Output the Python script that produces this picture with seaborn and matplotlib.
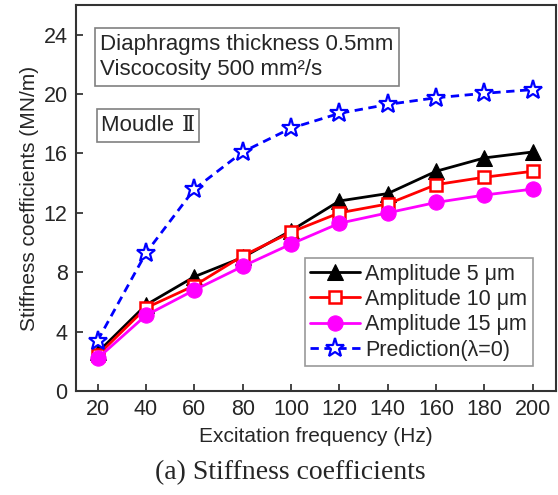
import matplotlib
matplotlib.use("Agg")
import matplotlib.pyplot as plt
import seaborn as sns
import pandas as pd
from matplotlib.patches import Rectangle

freq = [20, 40, 60, 80, 100, 120, 140, 160, 180, 200]
amp5 = [2.6, 5.8, 7.7, 9.0, 10.8, 12.8, 13.3, 14.8, 15.7, 16.1]
amp10 = [2.4, 5.6, 7.1, 9.1, 10.7, 12.0, 12.6, 13.9, 14.4, 14.8]
amp15 = [2.2, 5.1, 6.8, 8.4, 9.9, 11.3, 12.0, 12.7, 13.2, 13.6]
pred = [3.4, 9.3, 13.6, 16.1, 17.7, 18.7, 19.3, 19.75, 20.05, 20.3]
labels = ["Amplitude 5 μm", "Amplitude 10 μm", "Amplitude 15 μm", "Prediction(λ=0)"]

sns.set_theme(style="ticks")
plt.rcParams['font.family'] = ['Liberation Sans', 'DejaVu Sans']

fig = plt.figure(figsize=(5.58, 4.95), dpi=100)
ax = fig.add_axes([0.136, 0.210, 0.860, 0.780])

series = [amp5, amp10, amp15, pred]
styles = [
    dict(color="black", marker="^", markersize=11, markerfacecolor="black", markeredgecolor="black", linestyle="-"),
    dict(color="red", marker="s", markersize=9, markerfacecolor="white", markeredgecolor="red", markeredgewidth=1.8, linestyle="-"),
    dict(color="magenta", marker="o", markersize=11, markerfacecolor="magenta", markeredgecolor="magenta", linestyle="-"),
    dict(color="blue", marker="*", markersize=14, markerfacecolor="white", markeredgecolor="blue", markeredgewidth=1.6, linestyle=(0, (3, 2))),
]
for vals, lab, st in zip(series, labels, styles):
    df = pd.DataFrame({"freq": freq, "val": vals})
    sns.lineplot(data=df, x="freq", y="val", ax=ax, label=lab, linewidth=2, **st)

ax.set_xlim(11, 209.5)
ax.set_ylim(0, 26)
ax.set_xticks(freq)
ax.set_yticks([0, 4, 8, 12, 16, 20, 24])
ax.tick_params(direction="in", length=5, width=1.2, labelsize=15.5, top=False, right=False, pad=6)
for s in ax.spines.values():
    s.set_linewidth(1.5)
    s.set_color("#333333")
    s.set_visible(True)
ax.set_xlabel("Excitation frequency (Hz)", fontsize=15, labelpad=5)
ax.set_ylabel("Stiffness coefficients (MN/m)", fontsize=15, labelpad=3)

leg = ax.legend(loc="lower right", bbox_to_anchor=(0.952, 0.065), fontsize=15.5, frameon=True,
                fancybox=False, edgecolor="gray", handlelength=2.3, handletextpad=0.25,
                borderpad=0.25, labelspacing=0.2, borderaxespad=0)
leg.get_frame().set_linewidth(1.2)

box = dict(boxstyle="square,pad=0.25", facecolor="white", edgecolor="gray", linewidth=1.2)
ax.text(0.051, 0.926, "Diaphragms thickness 0.5mm\nViscocosity 500 mm²/s", transform=ax.transAxes,
        fontsize=16, va="top", ha="left", bbox=box, linespacing=1.3)

t1 = ax.text(0.052, 0.715, "Moudle ", transform=ax.transAxes, fontsize=16, va="top", ha="left")
t2 = ax.annotate("Ⅱ", xy=(1, 0), xycoords=t1, xytext=(1, 0), textcoords="offset points",
                 fontsize=16, va="bottom", ha="left", family=["Liberation Serif", "DejaVu Serif"])
fig.canvas.draw()
r = fig.canvas.get_renderer()
b1 = t1.get_window_extent(r)
b2 = t2.get_window_extent(r)
x0 = min(b1.x0, b2.x0) - 4
x1 = max(b1.x1, b2.x1) + 5
y0 = min(b1.y0, b2.y0) - 6
y1 = max(b1.y1, b2.y1) + 6
inv = ax.transAxes.inverted()
(ax0, ay0), (ax1, ay1) = inv.transform([(x0, y0), (x1, y1)])
ax.add_patch(Rectangle((ax0, ay0), ax1 - ax0, ay1 - ay0, transform=ax.transAxes,
                       facecolor="white", edgecolor="gray", linewidth=1.2, zorder=2.5))
t1.set_zorder(3)
t2.set_zorder(3)

fig.text(0.52, 0.02, "(a) Stiffness coefficients", fontsize=20, ha="center", va="bottom",
         family=["Liberation Serif"])

fig.savefig("out.png", dpi=100)
